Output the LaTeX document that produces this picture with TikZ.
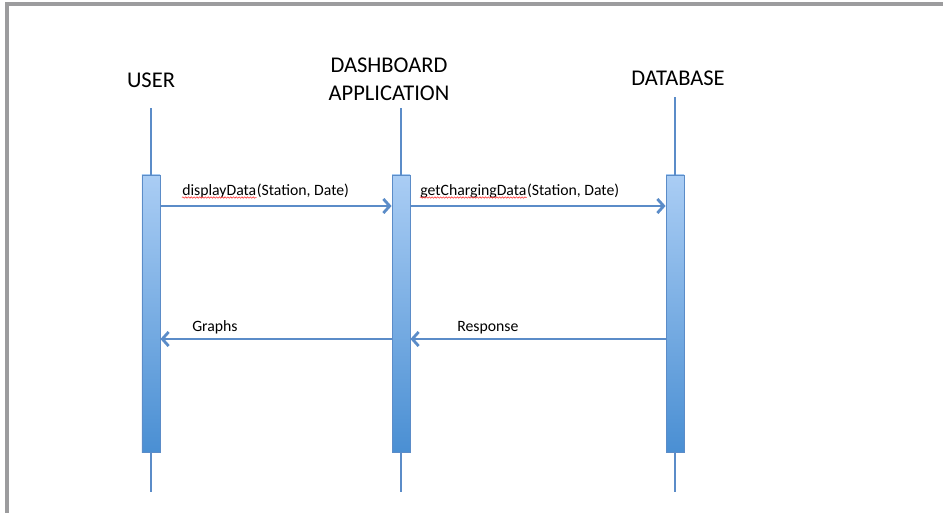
\documentclass[tikz,border=0pt]{standalone}
\usepackage{fontspec}
\setmainfont{Carlito}
\usetikzlibrary{arrows.meta,decorations.pathmorphing}
\definecolor{linea}{HTML}{5B8CC8}
\definecolor{barTop}{HTML}{AACDF4}
\definecolor{barBot}{HTML}{4A8FD3}
\definecolor{cornice}{HTML}{9C9C9E}
\begin{document}
\begin{tikzpicture}[x=0.025cm, y=-0.025cm,
    actor/.style={font=\fontsize{16}{20}\selectfont, align=center, inner sep=0pt},
    bar/.style={rectangle, draw=linea, line width=0.6pt, top color=barTop, bottom color=barBot,
        minimum width=0.45cm, minimum height=6.925cm, inner sep=0pt},
    lifeline/.style={draw=linea, line width=1.6pt},
    msg/.style={draw=linea, line width=2pt, -{Straight Barb[length=4.5pt, width=10pt]}},
    msgtext/.style={font=\fontsize{11.2}{13}\selectfont, inner sep=0pt},
    spell/.style={draw=red!80, line width=0.4pt, decorate,
        decoration={snake, amplitude=0.5pt, segment length=2pt}}
]
\useasboundingbox (0,0) rectangle (943,513);
\draw[cornice, line width=2.5pt] (7,513) -- (7,4) -- (943,4);

% Attori
\node[actor] (user) at (151,80) {USER};
\node[actor] (dash) at (389,79) {DASHBOARD\\APPLICATION};
\node[actor] (db) at (678,78) {DATABASE};

% Barre di attivazione
\node[bar] (ubar) at (151,313.5) {};
\node[bar] (dbar) at (401,313.5) {};
\node[bar] (bbar) at (675,313.5) {};

% Linee di vita
\coordinate (utop) at (151,108);
\coordinate (ubot) at (151,492);
\coordinate (dtop) at (401,108);
\coordinate (dbot) at (401,492);
\coordinate (btop) at (675,97);
\coordinate (bbot) at (675,492);
\draw[lifeline] (utop) -- (ubar.north);
\draw[lifeline] (ubar.south) -- (ubot);
\draw[lifeline] (dtop) -- (dbar.north);
\draw[lifeline] (dbar.south) -- (dbot);
\draw[lifeline] (btop) -- (bbar.north);
\draw[lifeline] (bbar.south) -- (bbot);

% Messaggi
\coordinate (req) at (0,206);
\coordinate (resp) at (0,339);
\draw[msg] (ubar.east |- req) -- (dbar.west |- req);
\draw[msg] (dbar.east |- req) -- (bbar.west |- req);
\draw[msg] (bbar.west |- resp) -- (dbar.east |- resp);
\draw[msg] (dbar.west |- resp) -- (ubar.east |- resp);

% Etichette
\node[msgtext, anchor=base west] (w1) at (182,195) {displayData};
\node[msgtext, anchor=base west] (t1) at (w1.base east) {(Station, Date)};
\node[msgtext, anchor=base west] (w2) at (420,195) {getChargingData};
\node[msgtext, anchor=base west] (t2) at (w2.base east) {(Station, Date)};
\node[msgtext, anchor=base west] (t3) at (192,331) {Graphs};
\node[msgtext, anchor=base west] (t4) at (457,331) {Response};
\draw[spell] ([yshift=-1.8pt]w1.base west) -- ([yshift=-1.8pt]w1.base east);
\draw[spell] ([yshift=-1.8pt]w2.base west) -- ([yshift=-1.8pt]w2.base east);
\end{tikzpicture}
\end{document}
